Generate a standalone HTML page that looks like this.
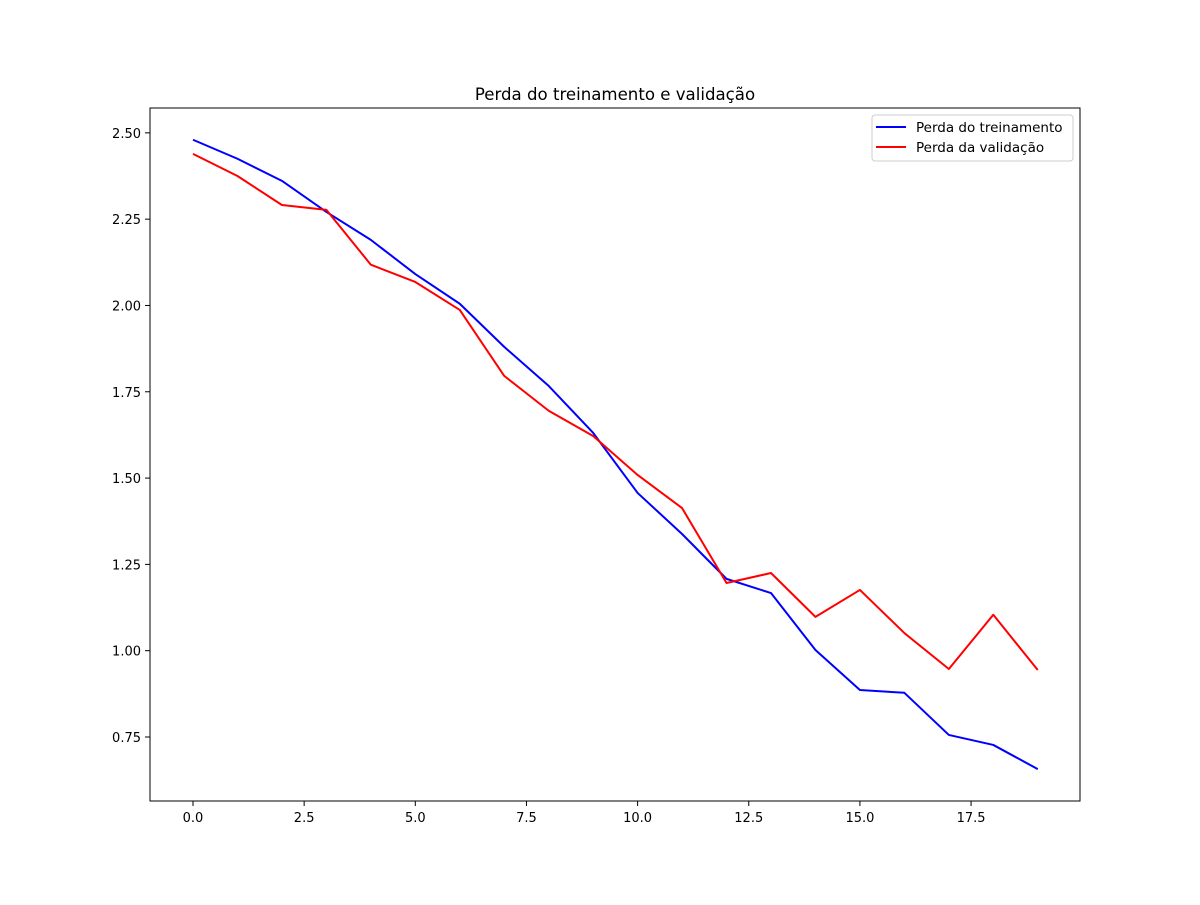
<!DOCTYPE html>
<html><head><meta charset="utf-8"><style>
body{margin:0;background:#fff;}
svg text{font-family:"DejaVu Sans","Liberation Sans",sans-serif;}
</style></head><body>
<svg id="chart" width="1200" height="900" viewBox="0 0 1200 900">
<rect width="1200" height="900" fill="#fff"/>
<text x="615" y="100" font-size="16.6" text-anchor="middle">Perda do treinamento e validação</text>
<g id="plot"></g>
<rect x="150" y="108" width="930" height="693" fill="none" stroke="#000" stroke-width="1"/>
<g>
<rect x="872" y="115" width="201" height="46" rx="3" fill="#fff" stroke="#ccc"/>
<line x1="876" y1="127" x2="906" y2="127" stroke="blue" stroke-width="2"/>
<text x="916" y="132" font-size="13.5">Perda do treinamento</text>
<line x1="876" y1="147" x2="906" y2="147" stroke="red" stroke-width="2"/>
<text x="916" y="152" font-size="13.5">Perda da validação</text>
</g>
</svg>
<script>
const epochs=[0,1,2,3,4,5,6,7,8,9,10,11,12,13,14,15,16,17,18,19];
const trainLoss=[2.480,2.425,2.361,2.271,2.190,2.091,2.005,1.880,1.767,1.631,1.457,1.338,1.208,1.167,1.002,0.886,0.878,0.756,0.727,0.657];
const valLoss=[2.439,2.375,2.291,2.277,2.118,2.068,1.987,1.796,1.695,1.622,1.509,1.413,1.196,1.225,1.098,1.176,1.051,0.947,1.104,0.944];
const xTicks=[0,2.5,5,7.5,10,12.5,15,17.5];
const yTicks=[0.75,1.00,1.25,1.50,1.75,2.00,2.25,2.50];
const X0=150,X1=1080,Y0=108,Y1=801;
const xMin=-0.967,xMax=19.95,yMin=0.5646,yMax=2.572;
const sx=v=>X0+(v-xMin)/(xMax-xMin)*(X1-X0);
const sy=v=>Y1-(v-yMin)/(yMax-yMin)*(Y1-Y0);
const NS="http://www.w3.org/2000/svg";
const g=document.getElementById('plot');
function mk(t,a){const e=document.createElementNS(NS,t);for(const k in a)e.setAttribute(k,a[k]);g.appendChild(e);return e;}
xTicks.forEach(t=>{
 const l=mk('line',{x1:sx(t),x2:sx(t),y1:Y1,y2:Y1+5,stroke:'#000'});
 
 
 const tx=mk('text',{x:sx(t),y:Y1+21,'font-size':13,'text-anchor':'middle'});
 tx.textContent=t.toFixed(1);
 
 
});
yTicks.forEach(t=>{
 const l=mk('line',{x1:X0-5,x2:X0,y1:sy(t),y2:sy(t),stroke:'#000'});
 
 
 const tx=mk('text',{x:X0-9,y:sy(t)+5,'font-size':13,'text-anchor':'end'});
 tx.textContent=t.toFixed(2);
 
 
});
function line(vals,color,name){
 const p=mk('polyline',{points:vals.map((v,i)=>sx(epochs[i])+','+sy(v)).join(' '),fill:'none',stroke:color,'stroke-width':2,'stroke-linejoin':'round'});
 
 
}
line(trainLoss,'blue','train-loss-line');
line(valLoss,'red','val-loss-line');
</script>
</body></html>
